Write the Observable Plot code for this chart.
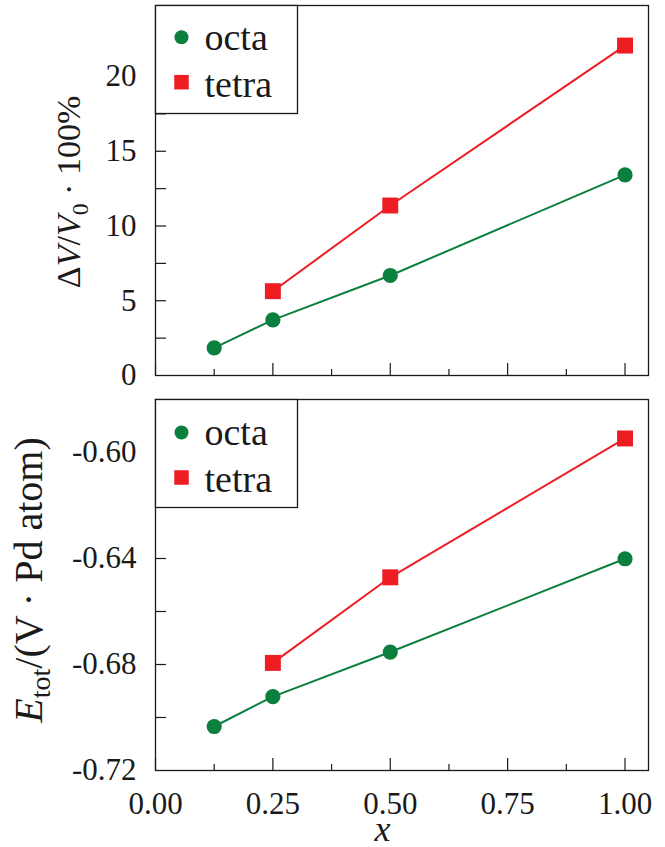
<!DOCTYPE html>
<html><head><meta charset="utf-8">
<script src="https://cdn.jsdelivr.net/npm/d3@7"></script>
<script src="https://cdn.jsdelivr.net/npm/@observablehq/plot@0.6"></script>
<style>
body{margin:0;background:#fff;}
#chart{width:665px;}
#chart svg{display:block;}
</style></head><body><div id="chart"></div>
<script>
// ---- data ----
const xOcta = [0.125, 0.25, 0.5, 1.0];
const xTetra = [0.25, 0.5, 1.0];
const dvOcta = [1.85, 3.72, 6.69, 13.42];
const dvTetra = [5.64, 11.37, 22.07];
const eOcta = [-0.7034, -0.6921, -0.6753, -0.6401];
const eTetra = [-0.6794, -0.6471, -0.5947];
const seriesNames = ["octa", "tetra"];
const seriesColors = ["#0b7f3e", "#ee1d24"];
const seriesSymbols = ["circle", "square"];
const xTicks = [0, 0.25, 0.5, 0.75, 1.0];
const xMinorTicks = [0.125, 0.375, 0.625, 0.875];
const dvTicks = [0, 5, 10, 15, 20];
const dvAllTicks = [2.5, 5, 7.5, 10, 12.5, 15, 17.5, 20, 22.5];
const eTicks = [-0.72, -0.68, -0.64, -0.60];
const eAllTicks = [-0.70, -0.68, -0.66, -0.64, -0.62, -0.60];

const W = 665, ML = 155, MR = 17;
const FW = W - ML - MR;
const FONT = "Liberation Serif";
const INK = "#1a1a1a";

function rows(xs, ys) { return xs.map((x, i) => ({x, y: ys[i]})); }

function panel({height, marginTop, marginBottom, yDomain, yTicks, yAllTicks, yFmt, octa, tetra, showX, legendDy}) {
  const FH = height - marginTop - marginBottom;
  const series = [octa, tetra];
  const marks = [
    Plot.frame({stroke: INK, strokeWidth: 1.3}),
    Plot.tickY(yAllTicks, {y: d => d, insetRight: FW - 11, stroke: INK, strokeWidth: 1.2}),
    Plot.tickX(xTicks, {x: d => d, insetTop: FH - 12, stroke: INK, strokeWidth: 1.2}),
    Plot.tickX(xMinorTicks, {x: d => d, insetTop: FH - 6, stroke: INK, strokeWidth: 1.2}),
    Plot.axisY({ticks: yTicks, tickSize: 0, tickPadding: 19, tickFormat: yFmt, label: null, fill: INK, fontFamily: FONT}),
    showX
      ? Plot.axisX({ticks: xTicks, tickSize: 0, tickPadding: 21, tickFormat: d => d.toFixed(2), label: null, fill: INK, fontFamily: FONT})
      : Plot.axisX({ticks: [], label: null})
  ];
  series.forEach((s, k) => {
    marks.push(Plot.line(s, {x: "x", y: "y", stroke: seriesColors[k], strokeWidth: 2}));
    marks.push(Plot.dot(s, {x: "x", y: "y", symbol: seriesSymbols[k], fill: seriesColors[k], stroke: "none", r: k === 0 ? 7.6 : 9.0}));
  });
  // legend box
  marks.push(Plot.frame({insetRight: FW - 142, insetBottom: FH - 108, fill: "white", stroke: INK, strokeWidth: 1.3}));
  seriesNames.forEach((name, k) => {
    marks.push(Plot.dot([name], {frameAnchor: "top-left", dx: 26, dy: legendDy[k][0], symbol: seriesSymbols[k], fill: seriesColors[k], stroke: "none", r: k === 0 ? 7 : 8.2}));
    marks.push(Plot.text([name], {frameAnchor: "top-left", dx: 49, dy: legendDy[k][1], text: d => d, textAnchor: "start", lineAnchor: "bottom", fontSize: 38, fontFamily: FONT, fill: INK}));
  });
  if (showX) {
    marks.push(Plot.text(["x"], {frameAnchor: "bottom", dx: 382 - (ML + FW / 2), dy: 70, text: d => d, lineAnchor: "bottom", fontSize: 36, fontStyle: "italic", fontFamily: FONT, fill: INK}));
  }
  return Plot.plot({
    width: W, height, marginTop, marginBottom, marginLeft: ML, marginRight: MR,
    x: {domain: [0, 1.05]},
    y: {domain: yDomain},
    style: {fontFamily: FONT, fontSize: "31px"},
    marks
  });
}

function addTitle(svg, parts, x, y, size) {
  const t = d3.select(svg).append("text")
    .attr("transform", `translate(${x},${y}) rotate(-90)`)
    .attr("text-anchor", "middle")
    .style("font-family", FONT)
    .attr("font-size", size)
    .attr("fill", INK);
  parts.forEach(p => {
    const s = t.append("tspan").text(p.t);
    if (p.i) s.attr("font-style", "italic");
    if (p.sub) s.attr("font-size", size * 0.7).attr("dy", 8);
    if (p.up) s.attr("dy", -8);
  });
}

const topPanel = panel({
  height: 397, marginTop: 5, marginBottom: 22,
  yDomain: [0, 24.75], yTicks: dvTicks, yAllTicks: dvAllTicks, yFmt: d => String(d),
  octa: rows(xOcta, dvOcta), tetra: rows(xTetra, dvTetra), showX: false,
  legendDy: [[31.7, 44], [76.7, 91]]
});
addTitle(topPanel, [{t: "Δ"}, {t: "V", i: true}, {t: "/"}, {t: "V", i: true}, {t: "0", sub: true}, {t: " · 100%", up: true}], 80, 192, 34);

const bottomPanel = panel({
  height: 450, marginTop: 2, marginBottom: 77,
  yDomain: [-0.72, -0.58], yTicks: eTicks, yAllTicks: eAllTicks, yFmt: d => d.toFixed(2),
  octa: rows(xOcta, eOcta), tetra: rows(xTetra, eTetra), showX: true,
  legendDy: [[33, 45], [78, 92]]
});
addTitle(bottomPanel, [{t: "E", i: true}, {t: "tot", sub: true}, {t: "/(V · Pd atom)", up: true}], 42, 580 - 397, 40);

document.getElementById("chart").append(topPanel, bottomPanel);
</script>
</body></html>
